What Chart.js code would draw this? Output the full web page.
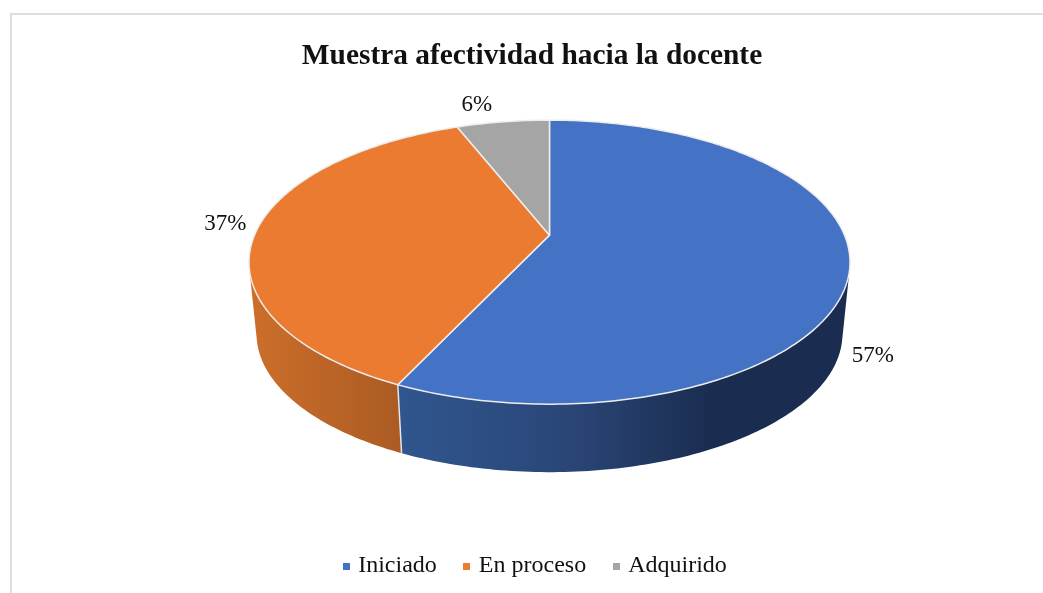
<!DOCTYPE html>
<html><head><meta charset="utf-8">
<script src="https://cdn.jsdelivr.net/npm/chart.js@4"></script>
<style>
html,body{margin:0;padding:0;background:#fff;overflow:hidden}
#frame{position:absolute;left:10px;top:13px;width:1040px;height:600px;border:2px solid #dedede;box-sizing:border-box}
canvas{position:absolute;left:0;top:0}
</style></head><body>
<div id="frame"></div>
<canvas id="c" width="1043" height="593"></canvas>
<script>
const chartTitle = 'Muestra afectividad hacia la docente';
const categories = ['Iniciado', 'En proceso', 'Adquirido'];
const percentages = [57, 37, 6];
const sliceColors = ['#4472C4', '#EA7B30', '#A5A5A5'];
const wallStops = [
  [[0, '#1A2D50'], [0.30, '#1A2D50'], [0.62, '#2A4677'], [1, '#30568F']],
  [[0, '#AB5B23'], [1, '#CC6E2A']],
  [[0, '#7C7C7C'], [1, '#7C7C7C']]
];
const FONT = '"Liberation Serif","Times New Roman",serif';
// perspective view of the flat pie (multiples of the arc radius, relative to the arc centre)
const view = { dx: 17.5, dy: -64, sx: 2.95, sy: 1.3687, k: 0.19015, depthScale: 0.975, vanish: 2889 };
// label nudges away from the rim, per slice
const labelNudge = [[23, 90], [-31, -7], [-26, -17]];
const legendShift = 4.5;

function project(el, ang) {
  const u = Math.cos(ang), v = Math.sin(ang), w = 1 - view.k * v;
  return { x: el.x + view.dx + el.outerRadius * view.sx * u / w,
           y: el.y + view.dy + el.outerRadius * view.sy * v / w };
}
function lower(el, p) {
  const cx = el.x + view.dx, vy = el.y + view.dy + view.vanish;
  return { x: cx + view.depthScale * (p.x - cx), y: vy + view.depthScale * (p.y - vy) };
}
function samples(el) {
  const n = Math.max(2, Math.ceil((el.endAngle - el.startAngle) * 60)), out = [];
  for (let i = 0; i <= n; i++) out.push(el.startAngle + (el.endAngle - el.startAngle) * i / n);
  return out;
}
function addQuad(ctx, q) {
  let area = 0;
  q.forEach((p, i) => { const n = q[(i + 1) % 4]; area += p.x * n.y - n.x * p.y; });
  const pts = area < 0 ? q.slice().reverse() : q;
  pts.forEach((p, i) => i ? ctx.lineTo(p.x, p.y) : ctx.moveTo(p.x, p.y));
  ctx.closePath();
}
const pie3d = {
  id: 'pie3d',
  afterLayout(chart) {
    chart.legend.left += legendShift;
    chart.legend.right += legendShift;
  },
  beforeDatasetsDraw(chart) {
    const ctx = chart.ctx, arcs = chart.getDatasetMeta(0).data;
    ctx.save();
    ctx.lineJoin = 'round';
    arcs.forEach((el, i) => {
      const top = samples(el).map(a => project(el, a));
      const bot = top.map(p => lower(el, p));
      const cx = el.x + view.dx;
      let g;
      if (i === 0) g = ctx.createLinearGradient(cx + el.outerRadius * view.sx, 0, cx - el.outerRadius * 1.5, 0);
      else g = ctx.createLinearGradient(cx - el.outerRadius * 1.5, 0, cx - el.outerRadius * view.sx, 0);
      wallStops[i].forEach(s => g.addColorStop(s[0], s[1]));
      ctx.fillStyle = g;
      ctx.beginPath();
      for (let j = 0; j < top.length - 1; j++) addQuad(ctx, [top[j], top[j + 1], bot[j + 1], bot[j]]);
      ctx.fill();
    });
    // seam between the two visible walls
    const seam = project(arcs[0], arcs[0].endAngle), seamLow = lower(arcs[0], seam);
    ctx.beginPath(); ctx.moveTo(seam.x, seam.y); ctx.lineTo(seamLow.x, seamLow.y);
    ctx.strokeStyle = '#E6E6E6'; ctx.lineWidth = 1.5; ctx.stroke();
    // top faces
    arcs.forEach(el => {
      const pts = samples(el).map(a => project(el, a));
      ctx.beginPath();
      ctx.moveTo(el.x + view.dx, el.y + view.dy);
      pts.forEach(p => ctx.lineTo(p.x, p.y));
      ctx.closePath();
      ctx.fillStyle = el.options.backgroundColor;
      ctx.fill();
      ctx.strokeStyle = '#EDEDED'; ctx.lineWidth = 1.5; ctx.stroke();
    });
    // data labels
    ctx.fillStyle = '#111';
    ctx.font = '23px ' + FONT;
    ctx.textAlign = 'center'; ctx.textBaseline = 'middle';
    arcs.forEach((el, i) => {
      const p = project(el, (el.startAngle + el.endAngle) / 2);
      ctx.fillText(percentages[i] + '%', p.x + labelNudge[i][0], p.y + labelNudge[i][1]);
    });
    ctx.restore();
    return false;
  }
};
function swatch(color) {
  const s = document.createElement('canvas');
  s.width = 7; s.height = 7;
  const x = s.getContext('2d'); x.fillStyle = color; x.fillRect(0, 0, 7, 7);
  return s;
}
new Chart(document.getElementById('c'), {
  type: 'pie',
  data: { labels: categories, datasets: [{ data: percentages, backgroundColor: sliceColors, radius: 100, borderWidth: 0 }] },
  options: {
    responsive: false, animation: false,
    layout: { padding: { left: 21, bottom: 5 } },
    plugins: {
      tooltip: { enabled: false },
      title: { display: true, text: chartTitle, color: '#111',
        font: { family: FONT, size: 29.4, weight: 'bold' }, padding: { top: 39, bottom: 0 } },
      legend: { position: 'bottom',
        labels: { color: '#111', font: { family: FONT, size: 24 }, padding: 30, usePointStyle: true, pointStyleWidth: 0.01,
          generateLabels: () => categories.map((t, i) => ({ text: t, fontColor: '#111', pointStyle: swatch(sliceColors[i]), fillStyle: sliceColors[i], strokeStyle: sliceColors[i], lineWidth: 0, index: i, hidden: false })) } }
    }
  },
  plugins: [pie3d]
});
</script></body></html>
